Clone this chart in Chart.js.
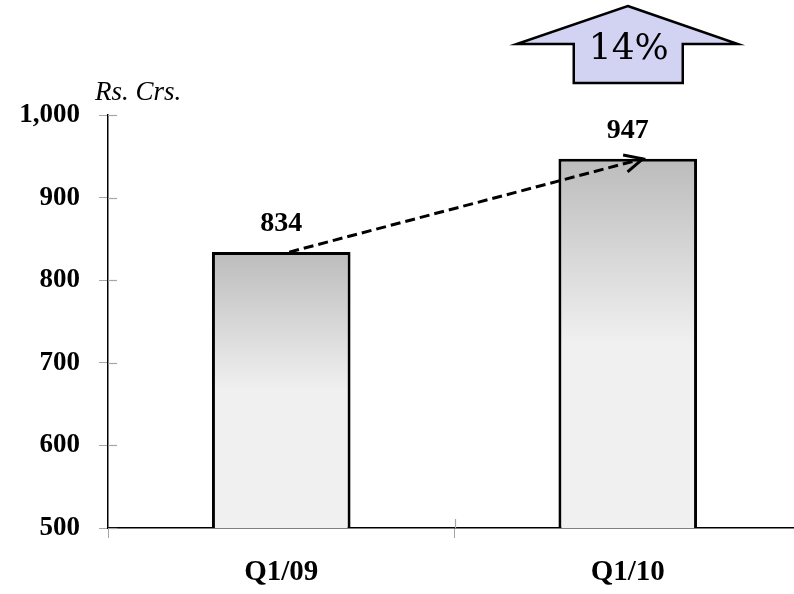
<!DOCTYPE html>
<html>
<head>
<meta charset="utf-8">
<script src="https://cdn.jsdelivr.net/npm/chart.js@4"></script>
<style>
  html, body { margin: 0; padding: 0; background: #fff; overflow: hidden; }
  #chart { display: block; }
</style>
</head>
<body>
<canvas id="chart" width="812" height="594"></canvas>
<script>
// Chart data
const categories = ['Q1/09', 'Q1/10'];
const revenue = [834, 947];
const yTicks = [500, 600, 700, 800, 900, 1000];
const unitLabel = 'Rs. Crs.';

const serif = '"Liberation Serif", "Times New Roman", serif';

// grey tick marks that cross the axes + unit label
const axisMarks = {
    id: 'axisMarks',
    afterDraw(chart) {
        const ctx = chart.ctx;
        const x = chart.scales.x;
        const y = chart.scales.y;
        ctx.save();
        ctx.strokeStyle = '#a6a6a6';
        ctx.lineWidth = 1.2;
        yTicks.forEach(v => {
            const py = Math.round(y.getPixelForValue(v)) + 0.5;
            ctx.beginPath();
            ctx.moveTo(x.left, py);
            ctx.lineTo(x.left + 9, py);
            ctx.stroke();
        });
        // category boundary between the two bars
        for (let i = 1; i < categories.length; i++) {
            const px = Math.round((x.getPixelForValue(i - 1) + x.getPixelForValue(i)) / 2) + 0.5;
            ctx.beginPath();
            ctx.moveTo(px, y.bottom);
            ctx.lineTo(px, y.bottom - 9);
            ctx.stroke();
        }
        ctx.fillStyle = '#000';
        ctx.font = 'italic 27px ' + serif;
        ctx.textAlign = 'left';
        ctx.textBaseline = 'alphabetic';
        ctx.fillText(unitLabel, 95, 100);
        ctx.restore();
    }
};

// value labels, dashed growth arrow and the growth badge
const growthMarks = {
    id: 'growthMarks',
    afterDatasetsDraw(chart) {
        const ctx = chart.ctx;
        const x = chart.scales.x;
        const y = chart.scales.y;
        ctx.save();

        ctx.fillStyle = '#000';
        ctx.font = 'bold 28px ' + serif;
        ctx.textAlign = 'center';
        ctx.textBaseline = 'bottom';
        revenue.forEach((v, i) => {
            ctx.fillText(String(v), x.getPixelForValue(i), y.getPixelForValue(v) - 14);
        });

        // dashed arrow from first bar top to second bar top
        const x0 = x.getPixelForValue(0) + 8, y0 = y.getPixelForValue(revenue[0]);
        const x1 = x.getPixelForValue(1) + 15, y1 = y.getPixelForValue(revenue[1]);
        ctx.strokeStyle = '#000';
        ctx.lineWidth = 3;
        ctx.setLineDash([10, 5]);
        ctx.beginPath();
        ctx.moveTo(x0, y0);
        ctx.lineTo(x1, y1);
        ctx.stroke();
        ctx.setLineDash([]);
        const ang = Math.atan2(y1 - y0, x1 - x0);
        const head = 20;
        ctx.beginPath();
        ctx.moveTo(x1 - head * Math.cos(ang - 0.45), y1 - head * Math.sin(ang - 0.45));
        ctx.lineTo(x1, y1);
        ctx.lineTo(x1 - head * Math.cos(ang + 0.45), y1 - head * Math.sin(ang + 0.45));
        ctx.stroke();

        // block arrow badge
        const cx = x.getPixelForValue(1);
        ctx.beginPath();
        ctx.moveTo(cx, 6);
        ctx.lineTo(cx + 110, 44);
        ctx.lineTo(cx + 55, 44);
        ctx.lineTo(cx + 55, 83);
        ctx.lineTo(cx - 54, 83);
        ctx.lineTo(cx - 54, 44);
        ctx.lineTo(cx - 111, 44);
        ctx.closePath();
        ctx.fillStyle = '#d2d2f2';
        ctx.fill();
        ctx.lineWidth = 2.5;
        ctx.lineJoin = 'miter';
        ctx.stroke();

        const pct = Math.round((revenue[1] - revenue[0]) / revenue[0] * 100);
        ctx.fillStyle = '#000';
        ctx.font = '36px "DejaVu Serif", serif';
        ctx.textAlign = 'center';
        ctx.textBaseline = 'alphabetic';
        ctx.fillText(pct + '%', cx + 1, 59);
        ctx.restore();
    }
};

function barGradient(context) {
    const chart = context.chart;
    if (!chart.chartArea) return '#e0e0e0';
    const y = chart.scales.y;
    const top = y.getPixelForValue(context.raw);
    const g = chart.ctx.createLinearGradient(0, top, 0, y.bottom);
    g.addColorStop(0, '#bcbcbc');
    g.addColorStop(0.5, '#f0f0f0');
    g.addColorStop(1, '#f0f0f0');
    return g;
}

new Chart(document.getElementById('chart').getContext('2d'), {
    type: 'bar',
    data: {
        labels: categories,
        datasets: [{
            data: revenue,
            backgroundColor: barGradient,
            borderColor: '#000',
            borderWidth: 3,
            borderSkipped: false,
            barPercentage: 0.4,
            categoryPercentage: 1
        }]
    },
    options: {
        responsive: false,
        animation: false,
        layout: { padding: { top: 115, right: 11, left: 0, bottom: 0 } },
        plugins: {
            legend: { display: false },
            tooltip: { enabled: false }
        },
        scales: {
            x: {
                afterFit(scale) { scale.height = 66; },
                border: { color: '#000', width: 1.5 },
                grid: { drawOnChartArea: false, tickLength: 10, color: '#a6a6a6', tickColor: '#a6a6a6' },
                ticks: {
                    color: '#000',
                    padding: 17,
                    font: { family: serif, size: 29, weight: 'bold' }
                }
            },
            y: {
                min: 500,
                max: 1000,
                afterFit(scale) { scale.width = 108; },
                afterBuildTicks(scale) { scale.ticks = yTicks.map(v => ({ value: v })); },
                border: { color: '#000', width: 1.5 },
                grid: { drawOnChartArea: false, tickLength: 9, color: '#a6a6a6', tickColor: '#a6a6a6' },
                ticks: {
                    color: '#000',
                    padding: 19,
                    font: { family: serif, size: 27, weight: 'bold' },
                    callback: v => v.toLocaleString('en-US')
                }
            }
        }
    },
    plugins: [axisMarks, growthMarks]
});
</script>
</body>
</html>
